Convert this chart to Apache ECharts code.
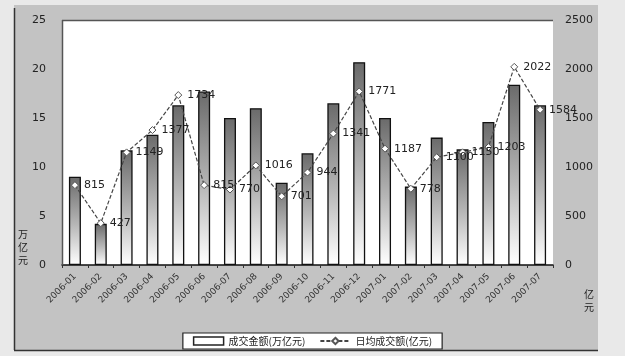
<!DOCTYPE html>
<html>
<head>
<meta charset="utf-8">
<script src="https://cdn.jsdelivr.net/npm/echarts@6/dist/echarts.min.js"></script>
<style>
  html, body { margin: 0; padding: 0; background: #e9e9e9; }
  #chart { width: 625px; height: 356px; }
</style>
</head>
<body>
<div id="chart"></div>
<script>
// Monthly categories
const months = [
  '2006-01', '2006-02', '2006-03', '2006-04', '2006-05', '2006-06', '2006-07',
  '2006-08', '2006-09', '2006-10', '2006-11', '2006-12', '2007-01', '2007-02',
  '2007-03', '2007-04', '2007-05', '2007-06', '2007-07'
];
// Monthly turnover (left axis)
const turnover = [9.0, 4.2, 11.7, 13.3, 16.3, 17.7, 15.0, 16.0, 8.4, 11.4,
  16.5, 20.7, 15.0, 8.0, 13.0, 11.8, 14.6, 18.4, 16.3];
// Daily average turnover (right axis)
const dailyAvg = [815, 427, 1149, 1377, 1734, 815, 770, 1016, 701, 944,
  1341, 1771, 1187, 778, 1100, 1150, 1203, 2022, 1584];
// Axis tick values
const leftTicks = [0, 5, 10, 15, 20, 25];
const rightTicks = [0, 500, 1000, 1500, 2000, 2500];

const barName = '成交金额(万亿元)';
const lineName = '日均成交额(亿元)';

const chart = echarts.init(document.getElementById('chart'), null, { renderer: 'canvas' });

chart.setOption({
  backgroundColor: '#e9e9e9',
  animation: false,
  textStyle: { fontFamily: 'DejaVu Sans, Noto Sans CJK SC' },
  graphic: [
    // grey chart panel
    { type: 'rect', z: -10, shape: { x: 14, y: 5, width: 584, height: 345 },
      style: { fill: '#c3c3c3', stroke: null } },
    { type: 'line', z: -9, shape: { x1: 14.5, y1: 8, x2: 14.5, y2: 350 },
      style: { stroke: '#333', lineWidth: 1.5 } },
    { type: 'line', z: -9, shape: { x1: 14, y1: 350.5, x2: 598, y2: 350.5 },
      style: { stroke: '#333', lineWidth: 1.5 } },
    // plot frame top/left
    { type: 'line', z: 5, shape: { x1: 62, y1: 20.5, x2: 553, y2: 20.5 },
      style: { stroke: '#555', lineWidth: 1.5 } },
    { type: 'line', z: 5, shape: { x1: 62.5, y1: 20, x2: 62.5, y2: 265 },
      style: { stroke: '#555', lineWidth: 1.5 } },
    // axis titles
    { type: 'text', left: 18, top: 228,
      style: { text: '万\n亿\n元', fontSize: 10, lineHeight: 13, fill: '#222',
        fontFamily: 'Noto Sans CJK SC' } },
    { type: 'text', left: 584, top: 288,
      style: { text: '亿\n元', fontSize: 10, lineHeight: 13, fill: '#222',
        fontFamily: 'Noto Sans CJK SC' } }
  ],
  grid: {
    left: 62, right: 72, top: 20, bottom: 91,
    show: true, backgroundColor: '#ffffff', borderWidth: 0
  },
  legend: {
    bottom: 7, left: 'center',
    padding: [3, 10, 3, 10],
    itemGap: 14,
    itemWidth: 30, itemHeight: 8,
    backgroundColor: '#ffffff',
    borderColor: '#222', borderWidth: 1.2, borderRadius: 0,
    textStyle: { fontSize: 10, color: '#222', fontFamily: 'Noto Sans CJK SC' },
    data: [
      { name: barName, icon: 'rect',
        itemStyle: { color: '#ffffff', borderColor: '#222', borderWidth: 1.5 } },
      { name: lineName }
    ]
  },
  xAxis: {
    type: 'category',
    data: months,
    axisLine: { lineStyle: { color: '#111', width: 1.5 } },
    axisTick: { show: true, alignWithLabel: false, length: 3, lineStyle: { color: '#333' } },
    axisLabel: { rotate: 45, fontSize: 9, color: '#333', margin: 10, interval: 0 }
  },
  yAxis: [
    {
      type: 'value', min: 0, max: 25, interval: 5,
      axisLine: { show: false }, axisTick: { show: false },
      splitLine: { show: false },
      axisLabel: { fontSize: 11, color: '#222', margin: 16,
        formatter: v => leftTicks.includes(v) ? String(v) : '' }
    },
    {
      type: 'value', min: 0, max: 2500, interval: 500,
      axisLine: { show: false }, axisTick: { show: false },
      splitLine: { show: false },
      axisLabel: { fontSize: 11, color: '#222', margin: 12,
        formatter: v => rightTicks.includes(v) ? String(v) : '' }
    }
  ],
  series: [
    {
      name: barName,
      type: 'bar',
      yAxisIndex: 0,
      data: turnover,
      barWidth: 12,
      itemStyle: {
        color: new echarts.graphic.LinearGradient(0, 0, 0, 1, [
          { offset: 0, color: '#6a6a6a' },
          { offset: 0.55, color: '#b8b8b8' },
          { offset: 1, color: '#ffffff' }
        ]),
        borderColor: '#111',
        borderWidth: 1.3
      }
    },
    {
      name: lineName,
      type: 'line',
      yAxisIndex: 1,
      data: dailyAvg,
      symbol: 'diamond',
      symbolSize: 7,
      z: 4,
      lineStyle: { color: '#444', width: 1.2, type: [4, 2] },
      itemStyle: { color: '#ffffff', borderColor: '#555', borderWidth: 1 },
      label: {
        show: true, position: 'right', distance: 5,
        fontSize: 11, color: '#222'
      }
    }
  ]
});
</script>
</body>
</html>
